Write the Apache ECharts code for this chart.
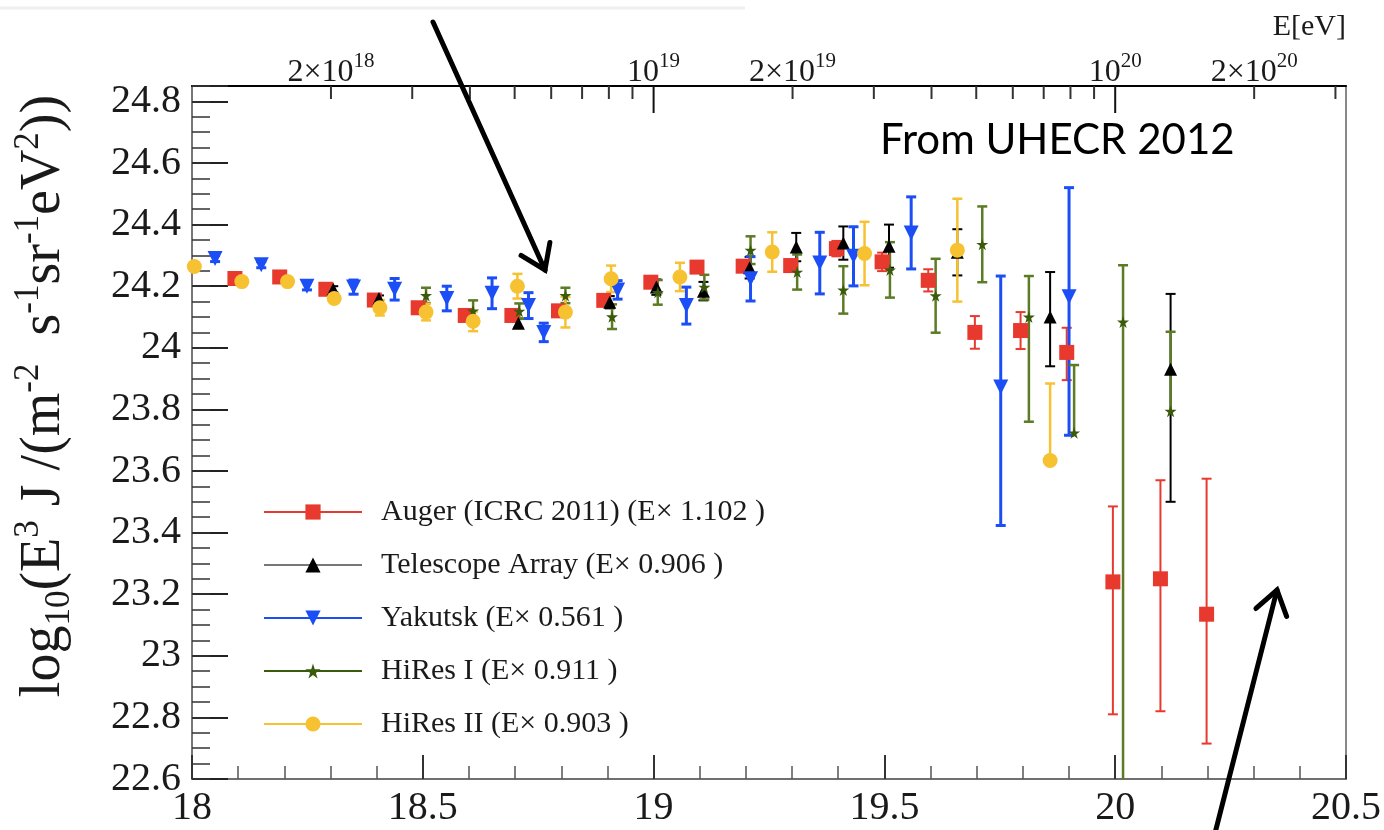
<!DOCTYPE html>
<html>
<head>
<meta charset="utf-8">
<title>UHECR energy spectra</title>
<script src="https://cdn.jsdelivr.net/npm/echarts@6/dist/echarts.min.js"></script>
<style>
  html, body { margin: 0; padding: 0; background: #ffffff; }
  #chart { width: 1384px; height: 830px; }
</style>
</head>
<body>
<div id="chart"></div>
<script>
// ---- Spectra: log10(E/eV), log10(E^3 J) and asymmetric errors (down / up) ----
const augerLogE = [18.093, 18.19, 18.29, 18.395, 18.49, 18.592, 18.693, 18.794, 18.892, 18.994, 19.094, 19.194, 19.297, 19.396, 19.495, 19.595, 19.696, 19.795, 19.895, 19.995, 20.098, 20.198];
const augerFlux = [24.225, 24.23, 24.19, 24.155, 24.13, 24.105, 24.105, 24.12, 24.154, 24.213, 24.262, 24.265, 24.267, 24.322, 24.279, 24.219, 24.05, 24.056, 23.985, 23.24, 23.25, 23.135];
const augerErrDown = [0.01, 0.01, 0.01, 0.01, 0.01, 0.01, 0.01, 0.01, 0.01, 0.012, 0.014, 0.016, 0.02, 0.025, 0.03, 0.036, 0.053, 0.06, 0.09, 0.43, 0.43, 0.42];
const augerErrUp = [0.01, 0.01, 0.01, 0.01, 0.01, 0.01, 0.01, 0.01, 0.01, 0.012, 0.014, 0.016, 0.02, 0.025, 0.03, 0.036, 0.053, 0.06, 0.08, 0.245, 0.32, 0.44];

const taLogE = [18.306, 18.405, 18.707, 18.905, 19.006, 19.108, 19.208, 19.309, 19.411, 19.51, 19.658, 19.859, 20.12];
const taFlux = [24.19, 24.16, 24.08, 24.148, 24.197, 24.184, 24.26, 24.327, 24.34, 24.33, 24.31, 24.1, 23.93];
const taErrDown = [0.01, 0.01, 0.015, 0.02, 0.025, 0.03, 0.035, 0.046, 0.054, 0.07, 0.075, 0.16, 0.43];
const taErrUp = [0.01, 0.01, 0.015, 0.02, 0.025, 0.03, 0.035, 0.046, 0.054, 0.07, 0.075, 0.146, 0.245];

const yakutskLogE = [18.05, 18.15, 18.249, 18.35, 18.439, 18.552, 18.65, 18.729, 18.762, 18.922, 19.071, 19.21, 19.36, 19.433, 19.558, 19.752, 19.9];
const yakutskFlux = [24.29, 24.27, 24.2, 24.197, 24.19, 24.16, 24.177, 24.137, 24.05, 24.188, 24.137, 24.224, 24.275, 24.297, 24.373, 23.873, 24.166];
const yakutskErrDown = [0.01, 0.01, 0.012, 0.023, 0.035, 0.04, 0.05, 0.042, 0.03, 0.03, 0.06, 0.072, 0.1, 0.096, 0.117, 0.45, 0.45];
const yakutskErrUp = [0.01, 0.01, 0.012, 0.023, 0.035, 0.04, 0.05, 0.042, 0.03, 0.03, 0.06, 0.072, 0.1, 0.096, 0.117, 0.36, 0.354];

const hires1LogE = [18.507, 18.609, 18.709, 18.809, 18.91, 19.009, 19.11, 19.21, 19.311, 19.411, 19.512, 19.611, 19.712, 19.813, 19.911, 20.017, 20.12];
const hires1Flux = [24.17, 24.12, 24.119, 24.17, 24.101, 24.18, 24.197, 24.317, 24.246, 24.188, 24.253, 24.169, 24.336, 24.1, 23.724, 24.084, 23.794];
const hires1ErrDown = [0.025, 0.034, 0.025, 0.025, 0.04, 0.04, 0.04, 0.045, 0.057, 0.077, 0.09, 0.12, 0.123, 0.34, 0, 1.6, 0];
const hires1ErrUp = [0.025, 0.034, 0.025, 0.025, 0.04, 0.04, 0.04, 0.045, 0.057, 0.077, 0.09, 0.12, 0.123, 0.133, 0.22, 0.184, 0.258];

const hires2LogE = [18.005, 18.108, 18.207, 18.308, 18.407, 18.507, 18.609, 18.705, 18.809, 18.908, 19.057, 19.257, 19.457, 19.658, 19.859];
const hires2Flux = [24.264, 24.215, 24.215, 24.16, 24.13, 24.116, 24.086, 24.2, 24.116, 24.224, 24.23, 24.311, 24.306, 24.317, 23.634];
const hires2ErrDown = [0.01, 0.01, 0.01, 0.012, 0.025, 0.027, 0.032, 0.04, 0.05, 0.043, 0.046, 0.064, 0.103, 0.167, 0];
const hires2ErrUp = [0.01, 0.01, 0.01, 0.012, 0.025, 0.027, 0.032, 0.04, 0.05, 0.043, 0.046, 0.064, 0.103, 0.167, 0.25];

// ---- Energy axis on top: tick energies in eV and the labelled ones ----
const topTickEnergies = [2e18, 3e18, 4e18, 5e18, 6e18, 7e18, 8e18, 9e18, 1e19, 2e19, 3e19, 4e19, 5e19, 6e19, 7e19, 8e19, 9e19, 1e20, 2e20, 3e20];
const topLabelEnergies = [2e18, 1e19, 2e19, 1e20, 2e20];
const topLabelTexts = ['{m|2×10}{s|18}', '{m|10}{s|19}', '{m|2×10}{s|19}', '{m|10}{s|20}', '{m|2×10}{s|20}'];

const seriesNames = [
  'Auger (ICRC 2011) (E× 1.102 )',
  'Telescope Array (E× 0.906 )',
  'Yakutsk (E× 0.561 )',
  'HiRes I (E× 0.911 )',
  'HiRes II (E× 0.903 )'
];

const X_MIN = 18, X_MAX = 20.5, Y_MIN = 22.6, Y_MAX = 24.85;
const SERIF = '"Liberation Serif", "Times New Roman", serif';
const STAR = 'path://M50,0 L61,35 L98,35 L68,57 L79,91 L50,70 L21,91 L32,57 L2,35 L39,35 Z';

function rows(logE, flux, lo, hi) {
  return logE.map((x, i) => [x, flux[i], lo[i], hi[i]]);
}

function errorBars(name, data, color, width) {
  return {
    name: name + ' err',
    type: 'custom',
    clip: true,
    silent: true,
    z: 2,
    data: data,
    renderItem: function (params, api) {
      const x = api.value(0), y = api.value(1), lo = api.value(2), hi = api.value(3);
      const top = api.coord([x, y + hi]);
      const bot = api.coord([x, y - lo]);
      const half = 5;
      const style = { stroke: color, lineWidth: width };
      const children = [{ type: 'line', shape: { x1: top[0], y1: top[1], x2: bot[0], y2: bot[1] }, style: style }];
      if (hi > 0) children.push({ type: 'line', shape: { x1: top[0] - half, y1: top[1], x2: top[0] + half, y2: top[1] }, style: style });
      if (lo > 0) children.push({ type: 'line', shape: { x1: bot[0] - half, y1: bot[1], x2: bot[0] + half, y2: bot[1] }, style: style });
      return { type: 'group', children: children };
    }
  };
}

function markers(name, data, color, lineColor, symbol, size, rotate, z) {
  return {
    name: name,
    type: 'line',
    clip: true,
    silent: true,
    z: z,
    data: data.map(r => [r[0], r[1]]),
    symbol: symbol,
    symbolSize: size,
    symbolRotate: rotate,
    showSymbol: true,
    itemStyle: { color: color, opacity: 1 },
    lineStyle: { color: lineColor, width: 2, opacity: 0 },
    emphasis: { disabled: true }
  };
}

const augerRows = rows(augerLogE, augerFlux, augerErrDown, augerErrUp);
const taRows = rows(taLogE, taFlux, taErrDown, taErrUp);
const yakRows = rows(yakutskLogE, yakutskFlux, yakutskErrDown, yakutskErrUp);
const hr1Rows = rows(hires1LogE, hires1Flux, hires1ErrDown, hires1ErrUp);
const hr2Rows = rows(hires2LogE, hires2Flux, hires2ErrDown, hires2ErrUp);

const RED = '#e8392e', BLUE = '#1b4ef5', GREEN = '#3a5a0c', GREEN_BAR = '#5b7b25', YELLOW = '#f6c232';
const TICK_RICH = { t: { fontFamily: SERIF, fontSize: 40, color: '#1a1a1a' } };

function tickText(v) {
  return '{t|' + (Math.round(v * 10) / 10) + '}';
}

// energy axis along the top frame
const topTickSeries = {
  type: 'custom', silent: true, z: 5,
  data: topTickEnergies.map(e => [Math.log10(e), Y_MAX]),
  renderItem: function (params, api) {
    const lg = api.value(0);
    const p = api.coord([lg, api.value(1)]);
    const decade = Math.abs(lg - Math.round(lg)) < 1e-6;
    const len = decade ? 27 : 13;
    return { type: 'line', shape: { x1: p[0], y1: p[1], x2: p[0], y2: p[1] + len },
      style: { stroke: decade ? '#111' : '#333', lineWidth: 2 } };
  }
};
const topLabelSeries = {
  type: 'custom', silent: true, z: 5,
  data: topLabelEnergies.map((e, i) => [Math.log10(e), Y_MAX, i]),
  renderItem: function (params, api) {
    const p = api.coord([api.value(0), api.value(1)]);
    return { type: 'text', x: p[0], y: p[1] + 3,
      style: { text: topLabelTexts[api.value(2)], align: 'center', verticalAlign: 'bottom',
        rich: {
          m: { fontFamily: SERIF, fontSize: 32, fill: '#1a1a1a', verticalAlign: 'bottom', lineHeight: 38 },
          s: { fontFamily: SERIF, fontSize: 21, fill: '#1a1a1a', verticalAlign: 'top', lineHeight: 38 }
        } } };
  }
};

function arrow(x1, y1, x2, y2) {
  const ang = Math.atan2(y2 - y1, x2 - x1);
  const L = 28, spread = 0.6;
  const a1 = [x2 - L * Math.cos(ang - spread), y2 - L * Math.sin(ang - spread)];
  const a2 = [x2 - L * Math.cos(ang + spread), y2 - L * Math.sin(ang + spread)];
  return [
    { type: 'line', shape: { x1: x1, y1: y1, x2: x2, y2: y2 }, style: { stroke: '#000', lineWidth: 5, lineCap: 'round' }, z: 50 },
    { type: 'polyline', shape: { points: [a1, [x2, y2], a2] }, style: { stroke: '#000', lineWidth: 5, lineCap: 'round', lineJoin: 'miter', fill: null }, z: 50 }
  ];
}

const chart = echarts.init(document.getElementById('chart'), null, { renderer: 'canvas' });

chart.setOption({
  animation: false,
  backgroundColor: '#ffffff',
  grid: { left: 192, right: 38, top: 86, bottom: 51 },
  xAxis: [
    {
      type: 'value', min: X_MIN, max: X_MAX, interval: 0.5, position: 'bottom',
      axisLine: { show: true, lineStyle: { color: '#707070', width: 2 } },
      axisTick: { show: true, inside: true, length: 24, lineStyle: { color: '#333', width: 2 } },
      minorTick: { show: true, splitNumber: 5, length: 13, lineStyle: { color: '#555', width: 1.5 } },
      axisLabel: { show: true, margin: 9, formatter: tickText, rich: TICK_RICH },
      splitLine: { show: false }
    },
    {
      type: 'value', min: X_MIN, max: X_MAX, position: 'top',
      axisLine: { show: true, lineStyle: { color: '#000', width: 2 } },
      axisTick: { show: false }, axisLabel: { show: false }, splitLine: { show: false }
    }
  ],
  yAxis: [
    {
      type: 'value', min: Y_MIN, max: Y_MAX, interval: 0.2, position: 'left',
      axisLine: { show: true, lineStyle: { color: '#777', width: 2 } },
      axisTick: { show: true, inside: true, length: 36, lineStyle: { color: '#222', width: 2 } },
      axisLabel: {
        show: true, margin: 11, rich: TICK_RICH,
        formatter: function (v) { return Math.abs(v * 5 - Math.round(v * 5)) < 1e-6 ? tickText(v) : ''; }
      },
      splitLine: { show: false }
    },
    {
      type: 'value', min: Y_MIN, max: Y_MAX, interval: 0.05, position: 'left',
      axisLine: { show: false },
      axisTick: { show: true, inside: true, length: 18, lineStyle: { color: '#333', width: 1.5 } },
      axisLabel: { show: false }, splitLine: { show: false }
    },
    {
      type: 'value', min: Y_MIN, max: Y_MAX, position: 'right',
      axisLine: { show: true, lineStyle: { color: '#888', width: 2 } },
      axisTick: { show: false }, axisLabel: { show: false }, splitLine: { show: false }
    }
  ],
  legend: {
    orient: 'vertical', left: 258, top: 492,
    itemWidth: 98, itemHeight: 19, itemGap: 23,
    selectedMode: false,
    lineStyle: { width: 2, opacity: 1 },
    textStyle: { fontFamily: SERIF, fontSize: 30, color: '#1a1a1a', lineHeight: 30, padding: [0, 0, 0, 14] },
    data: [
      { name: seriesNames[0] },
      { name: seriesNames[1], lineStyle: { color: '#777', width: 2, opacity: 1 } },
      { name: seriesNames[2] },
      { name: seriesNames[3] },
      { name: seriesNames[4] }
    ]
  },
  graphic: [
    { type: 'line', shape: { x1: 0, y1: 8, x2: 745, y2: 8 }, style: { stroke: '#efefef', lineWidth: 3 }, silent: true },
    { type: 'text', right: 38, top: 12, style: { text: 'E[eV]', font: '30px ' + SERIF, fill: '#1a1a1a' } },
    { type: 'text', left: 880, top: 119, style: { text: 'From UHECR 2012', font: '42px Lato, "Open Sans", sans-serif', fill: '#000' } },
    {
      type: 'text', x: 44, y: 396, rotation: Math.PI / 2,
      style: {
        text: '{n|log}{sub|10}{n|(E}{sup|3}{n| J /(m}{sup|-2}{n|  s}{sup|-1}{n|sr}{sup|-1}{n|eV}{sup|2}{n|))}',
        align: 'center', verticalAlign: 'middle',
        rich: {
          n: { fontFamily: SERIF, fontSize: 56, fill: '#1a1a1a', lineHeight: 66, verticalAlign: 'middle' },
          sub: { fontFamily: SERIF, fontSize: 35, fill: '#1a1a1a', lineHeight: 66, verticalAlign: 'bottom' },
          sup: { fontFamily: SERIF, fontSize: 35, fill: '#1a1a1a', lineHeight: 66, verticalAlign: 'top' }
        }
      }
    }
  ].concat(arrow(433, 22, 545, 270), arrow(1212, 845, 1277, 590)),
  series: [
    errorBars('auger', augerRows, RED, 2),
    errorBars('ta', taRows, '#000', 2),
    errorBars('yakutsk', yakRows, BLUE, 3),
    errorBars('hires1', hr1Rows, GREEN_BAR, 2.5),
    errorBars('hires2', hr2Rows, YELLOW, 2.5),
    markers(seriesNames[0], augerRows, RED, RED, 'rect', 15, 0, 10),
    markers(seriesNames[1], taRows, '#000', '#777', 'triangle', 13, 0, 11),
    markers(seriesNames[2], yakRows, BLUE, BLUE, 'triangle', 15, 180, 12),
    markers(seriesNames[3], hr1Rows, GREEN, GREEN, STAR, 12, 0, 13),
    markers(seriesNames[4], hr2Rows, YELLOW, YELLOW, 'circle', 15, 0, 14),
    topTickSeries, topLabelSeries
  ]
});
</script>
</body>
</html>
